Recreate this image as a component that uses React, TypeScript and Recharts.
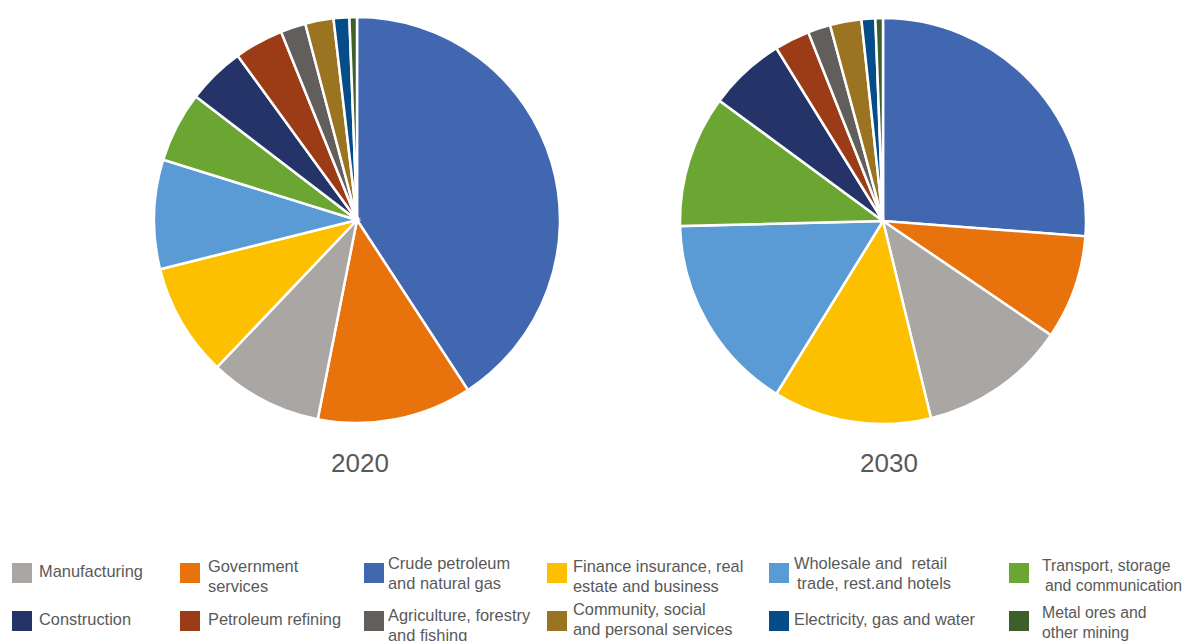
import { PieChart, Pie, Cell } from "recharts";

// sectors in the order the slices are drawn (clockwise from 12 o'clock)
const sectors = [
  "Crude petroleum and natural gas",
  "Government services",
  "Manufacturing",
  "Finance insurance, real estate and business",
  "Wholesale and retail trade, rest.and hotels",
  "Transport, storage and communication",
  "Construction",
  "Petroleum refining",
  "Agriculture, forestry and fishing",
  "Community, social and personal services",
  "Electricity, gas and water",
  "Metal ores and other mining",
];

const colors = [
  "#4267B1",
  "#E8720C",
  "#A9A6A4",
  "#FDC000",
  "#5B9BD5",
  "#6CA632",
  "#243469",
  "#9C3C17",
  "#625E5C",
  "#9A7421",
  "#044D88",
  "#3D5F2A",
];

// share of GDP, %
const values2020 = [40.8, 12.3, 9.0, 9.0, 8.7, 5.6, 4.6, 3.9, 2.0, 2.25, 1.25, 0.6];
const values2030 = [26.2, 8.3, 11.7, 12.6, 15.8, 10.5, 6.1, 2.8, 1.8, 2.5, 1.1, 0.6];

const years = ["2020", "2030"];

// legend entries: index into sectors + the text lines as printed
const legendOrder = [2, 1, 0, 3, 4, 5, 6, 7, 8, 9, 10, 11];
const legendLines = [
  ["Manufacturing"],
  ["Government", "services"],
  ["Crude petroleum", "and natural gas"],
  ["Finance insurance, real", "estate and business"],
  ["Wholesale and  retail", " trade, rest.and hotels"],
  ["Transport, storage", " and communication"],
  ["Construction"],
  ["Petroleum refining"],
  ["Agriculture, forestry", "and fishing"],
  ["Community, social", "and personal services"],
  ["Electricity, gas and water"],
  ["Metal ores and", "other mining"],
];

const toRows = (values: number[]) =>
  sectors.map((name, i) => ({ name, value: values[i] }));

const colSwatchX = [12, 180, 364, 547, 769, 1009];
const colTextX = [39, 208, 388, 573, 794, 1042];
const rowSwatchY = [563, 611];
const rowTextTop = [[562, 557, 554, 557, 554, 556], [610, 610, 606, 600, 610, 603]];

const textColor = "#595959";
const font = "'Liberation Sans', Arial, sans-serif";

const App = () => {
  const data2020 = toRows(values2020);
  const data2030 = toRows(values2030);

  return (
    <div
      style={{
        position: "absolute",
        left: 0,
        top: 0,
        width: 1186,
        height: 641,
        background: "#fff",
        fontFamily: font,
        overflow: "hidden",
      }}
    >
      <PieChart
        width={1186}
        height={450}
        margin={{ top: 0, right: 0, bottom: 0, left: 0 }}
      >
        <Pie
          data={data2020}
          dataKey="value"
          nameKey="name"
          cx={357}
          cy={220}
          outerRadius={203}
          startAngle={90}
          endAngle={-270}
          stroke="#ffffff"
          strokeWidth={2.5}
          isAnimationActive={false}
        >
          {data2020.map((entry, index) => (
            <Cell key={`a-${index}`} fill={colors[index]} />
          ))}
        </Pie>
        <Pie
          data={data2030}
          dataKey="value"
          nameKey="name"
          cx={883}
          cy={221}
          outerRadius={203}
          startAngle={90}
          endAngle={-270}
          stroke="#ffffff"
          strokeWidth={2.5}
          isAnimationActive={false}
        >
          {data2030.map((entry, index) => (
            <Cell key={`b-${index}`} fill={colors[index]} />
          ))}
        </Pie>
      </PieChart>

      {/* Títulos */}
      {years.map((y, i) => (
        <div
          key={y}
          style={{
            position: "absolute",
            left: i === 0 ? 300 : 829,
            width: 120,
            top: 448,
            textAlign: "center",
            fontSize: 26,
            lineHeight: "30px",
            color: textColor,
          }}
        >
          {y}
        </div>
      ))}

      {/* Legenda */}
      {legendOrder.map((si, k) => {
        const row = Math.floor(k / 6);
        const col = k % 6;
        const lastCol = col === 5;
        return (
          <div key={sectors[si]}>
            <div
              style={{
                position: "absolute",
                left: colSwatchX[col],
                top: rowSwatchY[row],
                width: 20,
                height: 20,
                background: colors[si],
              }}
            />
            <div
              style={{
                position: "absolute",
                left: colTextX[col],
                top: rowTextTop[row][col],
                fontSize: lastCol ? 15.8 : 16.4,
                lineHeight: "19.5px",
                color: textColor,
                whiteSpace: "pre",
              }}
            >
              {legendLines[k].map((l, j) => (
                <div
                  key={j}
                  style={{ paddingLeft: l.startsWith(" ") ? 3 : 0 }}
                >
                  {l.trim()}
                </div>
              ))}
            </div>
          </div>
        );
      })}
    </div>
  );
};

export default App;
